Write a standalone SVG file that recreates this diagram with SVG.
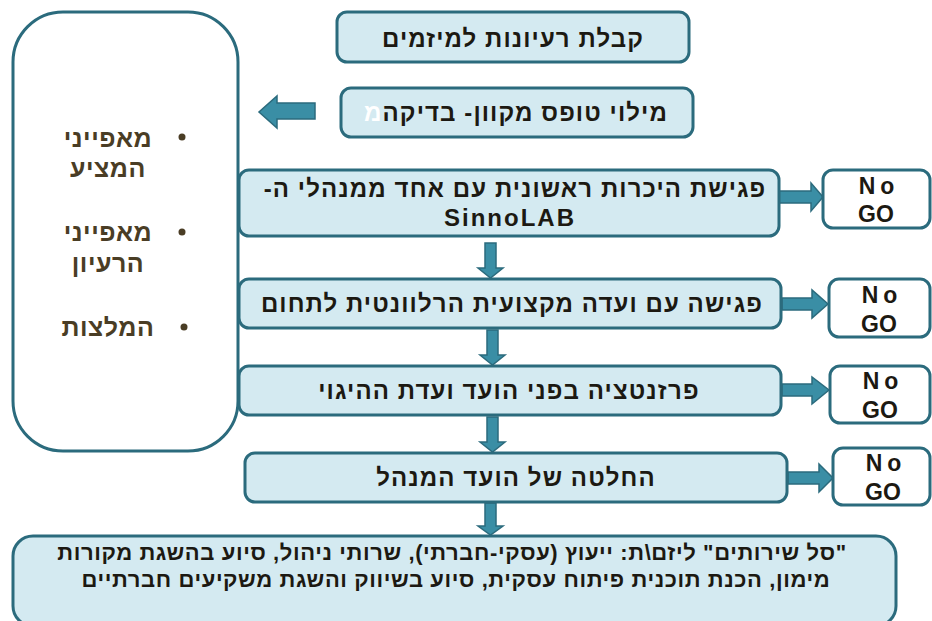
<svg xmlns="http://www.w3.org/2000/svg" width="932" height="621" viewBox="0 0 932 621">
  <style>
    .step { fill: #d4eaf1; stroke: #2b6b7d; stroke-width: 3; }
    .panel { fill: #ffffff; stroke: #2b6b7d; stroke-width: 3; }
    .nogo { fill: #ffffff; stroke: #2b6b7d; stroke-width: 3; }
    .arrow { fill: #3a8ea5; stroke: #2b6b7d; stroke-width: 1.5; stroke-linejoin: miter; }
    .t { font-family: "Liberation Sans", Arial, "DejaVu Sans", sans-serif; font-weight: bold; fill: #1c1912; text-anchor: middle; direction: rtl; unicode-bidi: embed; }
    .s { font-size: 24px; letter-spacing: 1.1px; }
    .b { font-size: 22px; letter-spacing: 0.6px; }
    .side { font-family: "Liberation Sans", Arial, "DejaVu Sans", sans-serif; font-weight: bold; font-size: 25px; letter-spacing: 0.5px; fill: #4a3d25; text-anchor: middle; direction: rtl; unicode-bidi: embed; }
    .en { font-family: "Liberation Sans", Arial, sans-serif; font-weight: bold; font-size: 23px; fill: #1c1912; text-anchor: middle; }
    .no { letter-spacing: 5px; }
    .dot { fill: #4a3d25; }
  </style>

  <!-- side panel with criteria -->
  <g id="criteria">
    <rect class="panel" x="13" y="12" width="225" height="439" rx="50" ry="50"/>
    <circle class="dot" cx="182" cy="137" r="3.5"/>
    <text class="side" x="108" y="147">מאפייני</text>
    <text class="side" x="108" y="177">המציע</text>
    <circle class="dot" cx="182" cy="232" r="3.5"/>
    <text class="side" x="108" y="241">מאפייני</text>
    <text class="side" x="108" y="272">הרעיון</text>
    <circle class="dot" cx="184" cy="327" r="3.5"/>
    <text class="side" x="108" y="336">המלצות</text>
  </g>

  <!-- connectors -->
  <g id="connectors">
    <!-- online form feeds the criteria panel -->
    <polygon class="arrow" points="315,103 277,103 277,96 259,112 277,128 277,119 315,119"/>
    <!-- step to step -->
    <polygon class="arrow" points="485,243 496,243 496,268 503,268 490.5,278 478,268 485,268"/>
    <polygon class="arrow" points="487,330 498,330 498,355 505,355 492.5,365 480,355 487,355"/>
    <polygon class="arrow" points="487,417 498,417 498,442 505,442 492.5,452 480,442 487,442"/>
    <polygon class="arrow" points="485,503 496,503 496,526 503,526 490.5,535 478,526 485,526"/>
    <!-- steps to No GO -->
    <polygon class="arrow" points="779,191 811,191 811,183 823,197 811,211 811,203 779,203"/>
    <polygon class="arrow" points="782,298 812,298 812,290 828,304 812,318 812,310 782,310"/>
    <polygon class="arrow" points="782,384 812,384 812,377 829,390 812,404 812,396 782,396"/>
    <polygon class="arrow" points="788,472 819,472 819,464 833,478 819,492 819,484 788,484"/>
  </g>

  <g id="step-ideas">
    <rect class="step" x="337" y="12" width="352" height="50" rx="10"/>
    <text class="t s" x="513" y="47">קבלת רעיונות למיזמים</text>
  </g>

  <g id="step-form">
    <rect class="step" x="341" y="88" width="352" height="49" rx="10"/>
    <text class="t s" x="516" y="121">מילוי טופס מקוון- בדיקה<tspan fill="#ffffff">מ</tspan></text>
  </g>

  <g id="step-intro">
    <rect class="step" x="239" y="170" width="540" height="66" rx="10"/>
    <text class="t s" x="515" y="197">פגישת היכרות ראשונית עם אחד ממנהלי ה-</text>
    <text class="t s" x="510" y="226" style="letter-spacing:2px">SinnoLAB</text>
  </g>

  <g id="step-committee">
    <rect class="step" x="239" y="279" width="542" height="49" rx="10"/>
    <text class="t s" x="512" y="312">פגישה עם ועדה מקצועית הרלוונטית לתחום</text>
  </g>

  <g id="step-steering">
    <rect class="step" x="239" y="366" width="542" height="49" rx="10"/>
    <text class="t s" x="509" y="399">פרזנטציה בפני הועד ועדת ההיגוי</text>
  </g>

  <g id="step-board">
    <rect class="step" x="245" y="453" width="542" height="49" rx="10"/>
    <text class="t s" x="516" y="486">החלטה של הועד המנהל</text>
  </g>

  <g id="services">
    <rect class="step" x="13" y="536" width="883" height="90" rx="20"/>
    <text class="t b" x="452" y="560">"סל שירותים" ליזם\ת: ייעוץ (עסקי-חברתי), שרותי ניהול, סיוע בהשגת מקורות</text>
    <text class="t b" x="456" y="587">מימון, הכנת תוכנית פיתוח עסקית, סיוע בשיווק והשגת משקיעים חברתיים</text>
  </g>

  <g id="nogo-1">
    <rect class="nogo" x="823" y="170" width="107" height="58" rx="10"/>
    <text class="en no" x="879" y="194">No</text>
    <text class="en" x="876" y="222">GO</text>
  </g>
  <g id="nogo-2">
    <rect class="nogo" x="829" y="279" width="101" height="58" rx="10"/>
    <text class="en no" x="882" y="303">No</text>
    <text class="en" x="879" y="332">GO</text>
  </g>
  <g id="nogo-3">
    <rect class="nogo" x="830" y="366" width="100" height="57" rx="10"/>
    <text class="en no" x="883" y="389">No</text>
    <text class="en" x="880" y="418">GO</text>
  </g>
  <g id="nogo-4">
    <rect class="nogo" x="833" y="448" width="97" height="57" rx="10"/>
    <text class="en no" x="886" y="471">No</text>
    <text class="en" x="883" y="500">GO</text>
  </g>
</svg>
